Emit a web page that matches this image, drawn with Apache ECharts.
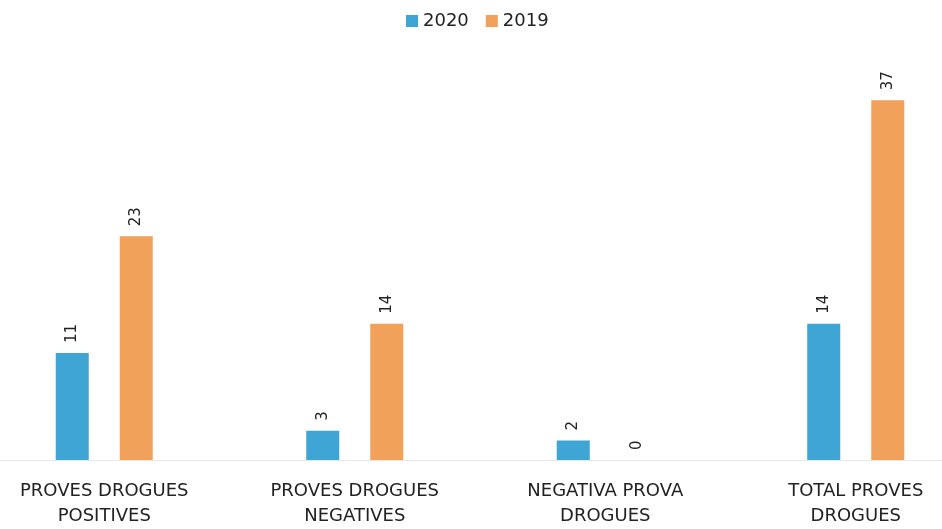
<!DOCTYPE html>
<html>
<head>
<meta charset="utf-8">
<script src="https://cdn.jsdelivr.net/npm/echarts@6/dist/echarts.min.js"></script>
<style>html,body{margin:0;padding:0;background:#fff}#c{width:942px;height:529px}</style>
</head>
<body>
<div id="c"></div>
<script>
var categories = ['PROVES DROGUES\nPOSITIVES', 'PROVES DROGUES\nNEGATIVES', 'NEGATIVA PROVA\nDROGUES', 'TOTAL PROVES\nDROGUES'];
var seriesNames = ['2020', '2019'];
var values2020 = [11, 3, 2, 14];
var values2019 = [23, 14, 0, 37];

var chart = echarts.init(document.getElementById('c'));
var labelCfg = {
  show: true, position: 'top', rotate: 90, align: 'left', verticalAlign: 'middle',
  distance: 10, color: '#222', fontSize: 15, fontFamily: 'DejaVu Sans'
};
chart.setOption({
  animation: false,
  legend: {
    top: 7, left: 401, itemWidth: 12, itemHeight: 12, itemGap: 17,
    icon: 'rect',
    textStyle: { fontSize: 18, color: '#222', fontFamily: 'DejaVu Sans' },
    data: seriesNames
  },
  grid: { left: -21, right: -39, top: 71, bottom: 69, containLabel: false, outerBoundsMode: 'none' },
  xAxis: {
    type: 'category', data: categories,
    axisLine: { show: true, lineStyle: { color: '#e8e8e8' } },
    axisTick: { show: false },
    axisLabel: { interval: 0, fontSize: 18, color: '#222', fontFamily: 'DejaVu Sans', lineHeight: 25, margin: 19 }
  },
  yAxis: { type: 'value', min: 0, max: 40, show: false, splitLine: { show: false } },
  series: [
    { name: seriesNames[0], type: 'bar', data: values2020, barWidth: 33, barGap: '94%',
      itemStyle: { color: '#3ea5d5' }, label: labelCfg },
    { name: seriesNames[1], type: 'bar', data: values2019, barWidth: 33,
      itemStyle: { color: '#f2a15b' }, label: labelCfg }
  ]
});
</script>
</body>
</html>
